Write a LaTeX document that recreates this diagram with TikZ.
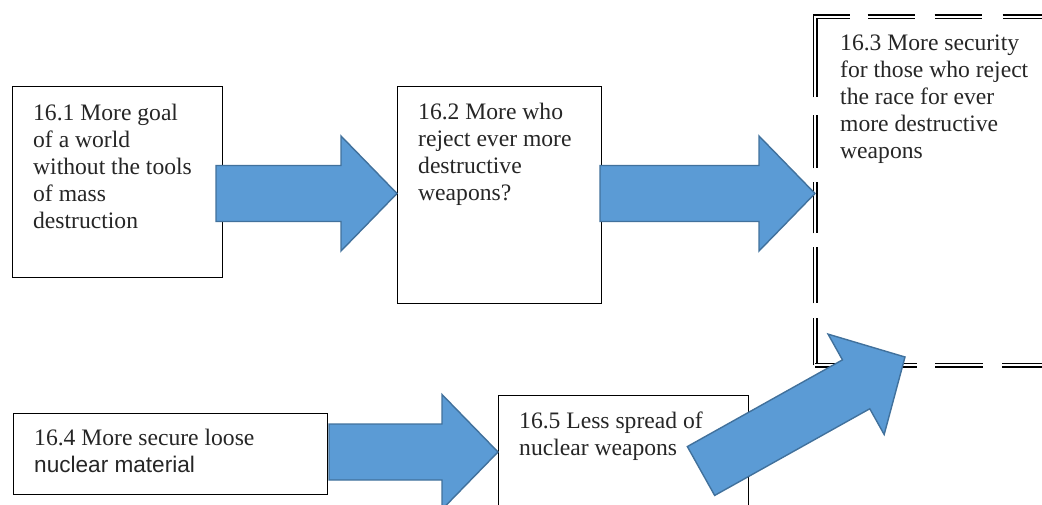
\documentclass[tikz,border=0pt]{standalone}
\usepackage{fontspec}
\setmainfont{Liberation Serif}
\newfontfamily\arialfont{Liberation Sans}
\usetikzlibrary{calc}

\definecolor{arrowblue}{HTML}{5B9BD5}
\definecolor{arrowedge}{HTML}{41719C}

\tikzset{
  box/.style={draw=black, line width=1.1pt, fill=white, anchor=north west, inner sep=0pt},
  area/.style={anchor=north west, inner sep=0pt},
  dline/.style={draw=black, line width=1.5pt, double=white, double distance=2pt, line join=miter},
  txt/.style={anchor=north west, inner sep=0pt, align=left, text=black!85,
    font=\fontsize{23.6pt}{27pt}\selectfont},
  arrowfill/.style={fill=arrowblue, draw=arrowedge, line width=1.4pt, line join=miter},
}

% Block arrow from tail #1 to tip #2: shaft half width 28, head half width 57.5, head length 56
\newcommand{\blockarrow}[2]{%
  \coordinate (hb) at ($(#2)!56pt!(#1)$);
  \path[arrowfill]
    ($(#1)!28pt!90:(#2)$) -- ($(hb)!28pt!-90:(#1)$) -- ($(hb)!57.5pt!-90:(#1)$)
    -- (#2) -- ($(hb)!57.5pt!90:(#1)$) -- ($(hb)!28pt!90:(#1)$)
    -- ($(#1)!28pt!-90:(#2)$) -- cycle;
}

\begin{document}
\begin{tikzpicture}[x=1pt, y=-1pt]
  \useasboundingbox (0,0) rectangle (1042,505);
  \clip (0,0) rectangle (1042,505);

  % boxes
  \node[box, minimum width=210pt, minimum height=191pt] (b1) at (12,86) {};
  \node[box, minimum width=204pt, minimum height=217pt] (b2) at (397,86) {};
  \node[area, minimum width=245pt, minimum height=348pt] (b3) at (815,17) {};
  \node[box, minimum width=314pt, minimum height=81pt] (b4) at (13,413) {};
  \node[box, minimum width=250pt, minimum height=130pt] (b5) at (498,395) {};

  % double dashed border of box 16.3
  \path[dline, dash pattern=on 47pt off 15pt on 56pt off 14pt on 51pt off 14pt on 53pt off 18pt
      on 115pt off 18pt on 47pt off 20pt on 47pt off 21pt on 60pt off 20pt]
    (b3.south west) -- (b3.north west) -- (b3.north east);
  \path[dline, dash pattern=on 102pt off 18pt on 48pt off 19pt on 60pt off 19pt]
    (b3.south west) -- (b3.south east);

  % texts
  \node[txt] (t1) at (33,104) {16.1 More goal\\of a world\\without the tools\\of mass\\destruction};
  \node[txt] (t2) at (418,103) {16.2 More who\\reject ever more\\destructive\\weapons?};
  \node[txt] (t3) at (840,35) {16.3 More security\\for those who reject\\the race for ever\\more destructive\\weapons};
  \node[txt] (t4) at (34,429) {16.4 More secure loose\\{\arialfont\fontsize{22.6pt}{27pt}\selectfont nuclear material}};
  \node[txt] (t5) at (519,412) {16.5 Less spread of\\nuclear weapons};

  % connector end points
  \coordinate (a1s) at (216,193.5);
  \coordinate (a1t) at (b2.west |- a1s);
  \coordinate (a2s) at (600,193.5);
  \coordinate (a2t) at (b3.west |- a2s);
  \coordinate (a3s) at (329,452);
  \coordinate (a3t) at (b5.west |- a3s);
  \coordinate (a4s) at (701,471);
  \coordinate (a4t) at (905,357);

  % arrows
  \blockarrow{a1s}{a1t}
  \blockarrow{a2s}{a2t}
  \blockarrow{a3s}{a3t}
  \blockarrow{a4s}{a4t}
\end{tikzpicture}
\end{document}
